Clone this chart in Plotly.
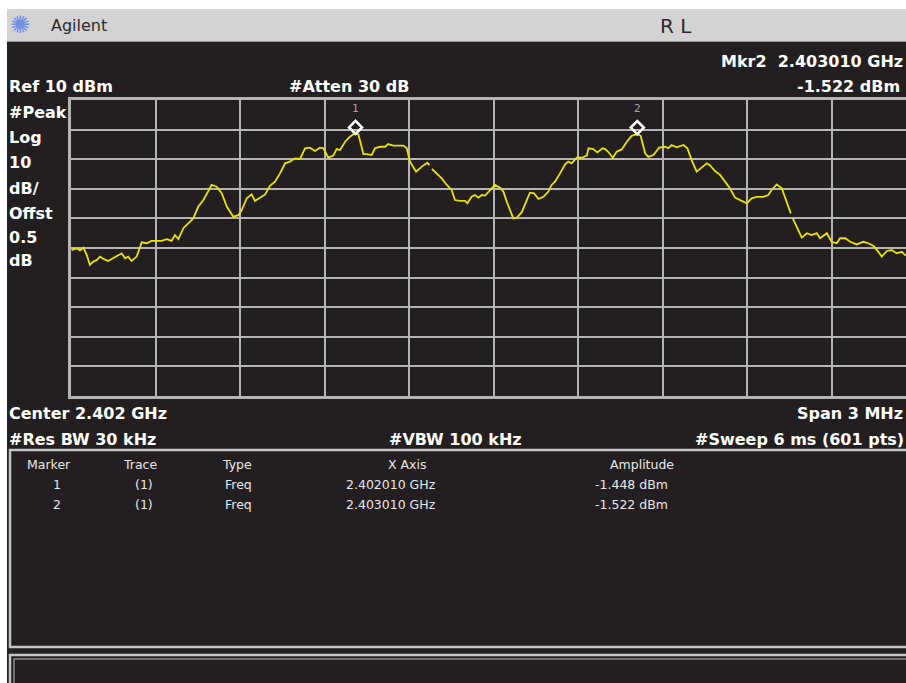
import plotly.graph_objects as go

W, H = 906, 683

# ---------------- data ----------------
freq_mhz = [
    2401.002, 2401.020, 2401.032, 2401.044, 2401.056, 2401.067, 2401.079, 2401.091, 2401.103, 2401.115,
    2401.132, 2401.150, 2401.168, 2401.180, 2401.192, 2401.203, 2401.215, 2401.233, 2401.251, 2401.269,
    2401.286, 2401.304, 2401.322, 2401.340, 2401.357, 2401.369, 2401.381, 2401.399, 2401.416, 2401.434,
    2401.452, 2401.470, 2401.493, 2401.499, 2401.517, 2401.535, 2401.553, 2401.576, 2401.594, 2401.606,
    2401.624, 2401.641, 2401.653, 2401.671, 2401.689, 2401.706, 2401.724, 2401.742, 2401.760, 2401.777,
    2401.795, 2401.813, 2401.831, 2401.848, 2401.866, 2401.884, 2401.896, 2401.913, 2401.931, 2401.943,
    2401.955, 2401.973, 2401.990, 2402.002, 2402.010, 2402.020, 2402.038, 2402.050, 2402.067, 2402.079,
    2402.097, 2402.115, 2402.126, 2402.144, 2402.162, 2402.180, 2402.192, 2402.203, 2402.225, 2402.245,
    2402.265, 2402.272, 2402.276, 2402.281, 2402.298, 2402.316, 2402.334, 2402.351, 2402.363, 2402.381,
    2402.399, 2402.407, 2402.422, 2402.434, 2402.446, 2402.458, 2402.470, 2402.487, 2402.505, 2402.523,
    2402.535, 2402.547, 2402.558, 2402.570, 2402.582, 2402.600, 2402.618, 2402.629, 2402.644, 2402.659,
    2402.677, 2402.694, 2402.706, 2402.718, 2402.736, 2402.754, 2402.765, 2402.777, 2402.795, 2402.813,
    2402.831, 2402.837, 2402.854, 2402.868, 2402.887, 2402.896, 2402.907, 2402.923, 2402.937, 2402.955,
    2402.973, 2402.990, 2403.008, 2403.010, 2403.022, 2403.038, 2403.049, 2403.067, 2403.088, 2403.109,
    2403.120, 2403.132, 2403.150, 2403.174, 2403.188, 2403.203, 2403.221, 2403.239, 2403.257, 2403.268,
    2403.286, 2403.304, 2403.322, 2403.339, 2403.357, 2403.381, 2403.399, 2403.416, 2403.434, 2403.458,
    2403.475, 2403.487, 2403.505, 2403.523, 2403.541, 2403.555, 2403.558, 2403.562, 2403.576, 2403.594,
    2403.612, 2403.629, 2403.647, 2403.659, 2403.683, 2403.700, 2403.718, 2403.730, 2403.748, 2403.766,
    2403.789, 2403.813, 2403.830, 2403.848, 2403.866, 2403.878, 2403.896, 2403.913, 2403.931, 2403.949,
    2403.961, 2404.000,
]
amp_dbm = [
    -40.7, -40.1, -40.8, -39.9, -42.4, -45.7, -44.6, -44.1, -42.9, -43.7,
    -44.4, -43.5, -42.4, -41.8, -43.5, -42.9, -44.4, -42.9, -38.1, -38.4,
    -37.6, -37.6, -37.6, -37.0, -37.6, -35.6, -37.0, -33.3, -31.7, -30.0,
    -26.0, -23.8, -19.8, -18.7, -19.3, -21.5, -26.0, -29.4, -28.9, -27.2,
    -23.2, -21.9, -24.1, -23.0, -21.9, -19.0, -17.6, -14.8, -11.4, -10.8,
    -9.7, -9.9, -6.3, -6.1, -7.2, -6.1, -6.3, -9.5, -8.8, -6.6,
    -6.9, -4.1, -2.4, -1.6, -1.4, -1.6, -8.3, -8.3, -8.6, -6.3,
    -5.8, -5.8, -4.9, -5.4, -5.5, -5.4, -6.3, -10.8, -14.2, -12.5,
    -11.2, -12.0, None, -13.3, -14.8, -16.5, -18.7, -20.4, -23.8, -24.1,
    -24.1, -24.9, -22.7, -22.1, -23.0, -22.1, -22.3, -20.7, -18.7, -19.6,
    -21.0, -24.4, -27.2, -30.0, -29.8, -27.9, -23.8, -21.3, -21.5, -23.4,
    -22.7, -21.0, -18.7, -17.6, -14.8, -11.7, -10.8, -11.4, -9.5, -9.5,
    -8.8, -6.3, -6.6, -7.7, -6.3, -6.6, -7.5, -9.5, -7.5, -6.7,
    -4.1, -2.1, -1.6, -1.5, -2.1, -8.0, -9.2, -8.6, -6.1, -5.8,
    -6.3, -5.2, -6.0, -5.2, -6.3, -10.3, -14.2, -12.9, -11.4, -12.0,
    -14.0, -15.3, -17.6, -19.8, -23.0, -24.1, -24.9, -23.2, -22.7, -22.7,
    -22.1, -20.4, -18.5, -19.8, -24.4, -28.3, None, -30.0, -32.8, -36.5,
    -35.0, -35.6, -35.0, -36.7, -35.0, -37.9, -38.4, -36.7, -36.7, -37.9,
    -38.8, -37.9, -38.4, -39.2, -41.3, -42.9, -41.0, -40.7, -41.8, -41.3,
    -42.4, -41.5,
]

marker_ids = ["1", "2"]
marker_freq_mhz = [2402.010, 2403.010]
marker_amp_dbm = [-1.448, -1.522]
marker_freq_text = ["2.402010 GHz", "2.403010 GHz"]
marker_amp_text = ["-1.448 dBm", "-1.522 dBm"]
marker_trace = ["(1)", "(1)"]
marker_type = ["Freq", "Freq"]

table_headers = ["Marker", "Trace", "Type", "X Axis", "Amplitude"]

ref_level_dbm = 10
db_per_div = 10
n_div = 10
f_start_mhz = 2401.0
div_mhz = 0.3
visible_span_mhz = 2.964

# ---------------- styling ----------------
BG = "#231f20"
GRID = "#b4b4b4"
YEL = "#ebe205"
FONT = "DejaVu Sans"


def px(x):
    return x / W


def py(y):
    return 1 - y / H


x_dom = [px(71), 1.0]
y_dom = [py(396), py(100)]
shift = 6.5 / H

fig = go.Figure()

fig.add_trace(go.Scatter(
    x=freq_mhz, y=amp_dbm, mode="lines",
    line=dict(color=YEL, width=1.8), connectgaps=False,
    hoverinfo="skip", showlegend=False,
))

fig.add_trace(go.Scatter(
    x=marker_freq_mhz, y=marker_amp_dbm, mode="markers",
    xaxis="x2", yaxis="y2",
    marker=dict(symbol="diamond-open", size=10, color="white",
                line=dict(color="white", width=2.6)),
    hoverinfo="skip", showlegend=False,
))

yrange = [ref_level_dbm - n_div * db_per_div, ref_level_dbm]
xrange = [f_start_mhz, f_start_mhz + visible_span_mhz]

shapes = [
    # title bar
    dict(type="rect", xref="paper", yref="paper", x0=px(7), x1=1.01, y0=py(42), y1=py(9),
         fillcolor="#d3d3d3", line=dict(width=0), layer="below"),
    dict(type="line", xref="paper", yref="paper", x0=px(7), x1=1.01, y0=py(41.5), y1=py(41.5),
         line=dict(color="#9a9a9a", width=1), layer="below"),
    # black screen
    dict(type="rect", xref="paper", yref="paper", x0=px(7), x1=1.01, y0=-0.01, y1=py(42),
         fillcolor=BG, line=dict(width=0), layer="below"),
    # marker table box
    dict(type="rect", xref="paper", yref="paper", x0=px(10), x1=px(915), y0=py(647), y1=py(450),
         fillcolor="rgba(0,0,0,0)", line=dict(color="#c4c4c4", width=2.5), layer="above"),
    # status box (double border)
    dict(type="rect", xref="paper", yref="paper", x0=px(10), x1=px(915), y0=py(700), y1=py(655),
         fillcolor="rgba(0,0,0,0)", line=dict(color="#c4c4c4", width=2.5), layer="above"),
    dict(type="rect", xref="paper", yref="paper", x0=px(14), x1=px(915), y0=py(700), y1=py(659),
         fillcolor="rgba(0,0,0,0)", line=dict(color="#8c8c8c", width=1.5), layer="above"),
]

annotations = []


def ann(text, x, y, anchor="left", size=16, bold=True, color="#ffffff", family=FONT):
    annotations.append(dict(
        text=text, x=px(x), y=py(y), xref="paper", yref="paper",
        xanchor=anchor, yanchor="middle", showarrow=False,
        font=dict(family=family, size=size, color=color, weight="bold" if bold else "normal"),
    ))


# title bar
ann("\u273a", 20, 25, anchor="center", size=24, bold=False, color="#7490e0")
ann("Agilent", 49, 25, size=16, bold=False, color="#2a2a2a")
ann("R\u00a0L", 658, 26, size=20, bold=False, color="#2a2a2a")

# header
ann("Mkr2\u00a0\u00a02.403010 GHz", 905, 62, anchor="right")
ann("Ref 10 dBm", 7, 87)
ann("#Atten 30 dB", 287, 87)
ann(marker_amp_text[1], 902, 87, anchor="right")

# left labels
for txt, yy in [("#Peak", 112), ("Log", 137), ("10", 162.5), ("dB/", 188),
                ("Offst", 213), ("0.5", 238), ("dB", 260)]:
    ann(txt, 7, yy)

# footer
ann("Center 2.402 GHz", 7, 413)
ann("Span 3 MHz", 905, 413, anchor="right")
ann("#Res BW 30 kHz", 7, 439)
ann("#VBW 100 kHz", 387, 439)
ann("#Sweep 6 ms (601 pts)", 906, 439, anchor="right")

# marker table
TCOL = "#e8e8e8"
hdr_x = [49, 140, 237, 407, 642]
for h, xx in zip(table_headers, hdr_x):
    ann(h, xx, 464, anchor="center", size=12.5, bold=False, color=TCOL)
row_y = [484, 504]
for i in range(len(marker_ids)):
    ann(marker_ids[i], 56.5, row_y[i], anchor="center", size=12.5, bold=False, color=TCOL)
    ann(marker_trace[i], 144, row_y[i], anchor="center", size=12.5, bold=False, color=TCOL)
    ann(marker_type[i], 238, row_y[i], anchor="center", size=12.5, bold=False, color=TCOL)
    ann(marker_freq_text[i], 391, row_y[i], anchor="center", size=12.5, bold=False, color=TCOL)
    ann(marker_amp_text[i], 631, row_y[i], anchor="center", size=12.5, bold=False, color=TCOL)

# marker number labels above the diamonds
for mid, mf, ma in zip(marker_ids, marker_freq_mhz, marker_amp_dbm):
    annotations.append(dict(
        text=mid, x=mf, y=ma, xref="x2", yref="y2", xanchor="center", yanchor="middle",
        yshift=19, showarrow=False,
        font=dict(family="DejaVu Sans Mono", size=11, color="#a8a8a8"),
    ))

fig.update_layout(
    width=W, height=H, autosize=False,
    margin=dict(l=0, r=0, t=0, b=0, pad=0),
    paper_bgcolor="#ffffff", plot_bgcolor="rgba(0,0,0,0)",
    showlegend=False,
    xaxis=dict(domain=x_dom, range=xrange, tick0=f_start_mhz, dtick=div_mhz,
               showgrid=True, gridcolor=GRID, gridwidth=1.5, zeroline=False,
               showticklabels=False, ticks="", showline=True, linecolor=GRID,
               linewidth=2.5, mirror=True, fixedrange=True),
    yaxis=dict(domain=y_dom, range=yrange, tick0=ref_level_dbm, dtick=db_per_div,
               showgrid=True, gridcolor=GRID, gridwidth=1.5, zeroline=False,
               showticklabels=False, ticks="", showline=True, linecolor=GRID,
               linewidth=2.5, mirror=False, fixedrange=True),
    xaxis2=dict(domain=x_dom, range=xrange, visible=False, anchor="y2", fixedrange=True),
    yaxis2=dict(domain=[y_dom[0] + shift, y_dom[1] + shift], range=yrange, visible=False,
                anchor="x2", fixedrange=True),
    shapes=shapes,
    annotations=annotations,
)

fig.write_html(
    "out.html",
    config={"displayModeBar": False},
    post_script="document.body.style.margin='0';document.body.style.overflow='hidden';",
)
